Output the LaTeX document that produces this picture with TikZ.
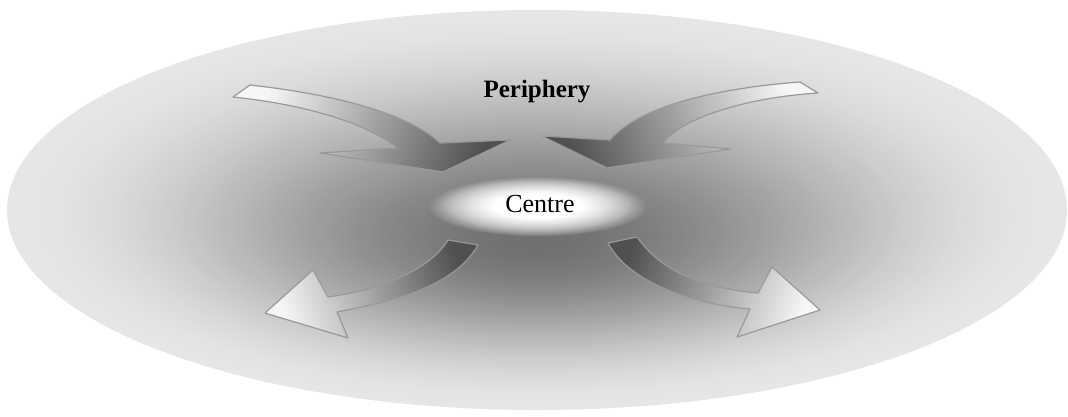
\documentclass[tikz,border=0pt]{standalone}
\usepackage{fontspec}
\setmainfont{Liberation Serif}
\definecolor{arlight}{HTML}{F6F6F6}
\definecolor{ardark}{HTML}{505050}
\definecolor{arline}{HTML}{999999}
\tikzset{
  arrowline/.style={draw=arline, line width=1.2pt, line join=round},
  inarrow/.style={top color=arlight, bottom color=ardark, postaction={arrowline}},
  outarrow/.style={top color=ardark, bottom color=arlight, postaction={arrowline}},
  labeltext/.style={font=\fontsize{25}{30}\selectfont, inner sep=0pt, text=black}
}
\begin{document}
\begin{tikzpicture}[x=1pt,y=-1pt]
\useasboundingbox (0,0) rectangle (1068,416);
% periphery field: concentric ellipses, dark near the centre, light at the rim
\foreach \i in {90,...,1}{
  \pgfmathsetmacro\t{\i/90}
  \pgfmathsetmacro\s{3*\t*\t-2*\t*\t*\t}
  \pgfmathsetmacro\g{(112+118*\s)/255}
  \pgfmathsetmacro\cy{210+34*(1-\t)}
  \definecolor{stepc}{gray}{\g}
  \fill[stepc] (537,\cy) ellipse [x radius={530*\t}, y radius={200*\t}];
}
% centre glow
\foreach \i in {45,...,1}{
  \pgfmathsetmacro\t{\i/45}
  \pgfmathsetmacro\u{max(\t-0.4,0)/0.6}
  \pgfmathsetmacro\g{(255-120*(0.5*\u+0.5*\u*\u))/255}
  \definecolor{stepc}{gray}{\g}
  \fill[stepc, opacity={\t>0.85 ? 0.6 : 1}] (538,206) ellipse [x radius={110*\t}, y radius={30*\t}];
}
% top-left inward arrow
\path[inarrow, shading angle=68] (250,85) .. controls (340,95) and (410,115) .. (440,143)
  -- (510,140) -- (443,172) -- (320,153) -- (397,148)
  .. controls (370,125) and (310,105) .. (233,97) -- cycle;
% top-right inward arrow
\path[inarrow, shading angle=-68] (800,82) .. controls (720,88) and (640,105) .. (610,140)
  -- (542,136) -- (607,168) -- (730,149) -- (663,143)
  .. controls (680,120) and (740,98) .. (818,93) -- cycle;
% bottom-left outward arrow
\path[outarrow, shading angle=-70] (448,240) .. controls (430,270) and (380,290) .. (328,297)
  -- (313,270) -- (265,313) -- (348,338) -- (337,312)
  .. controls (400,300) and (455,285) .. (478,245) -- cycle;
% bottom-right outward arrow
\path[outarrow, shading angle=70] (637,237) .. controls (660,270) and (700,288) .. (758,293)
  -- (772,267) -- (820,310) -- (737,337) -- (750,309)
  .. controls (700,305) and (630,285) .. (608,243) -- cycle;
% labels
\node[labeltext, anchor=base, font=\fontsize{26}{30}\selectfont] (centre) at (540,212) {Centre};
\node[labeltext, anchor=base, font=\fontsize{25}{30}\selectfont\bfseries] (periphery) at (537,97) {Periphery};
\end{tikzpicture}
\end{document}
